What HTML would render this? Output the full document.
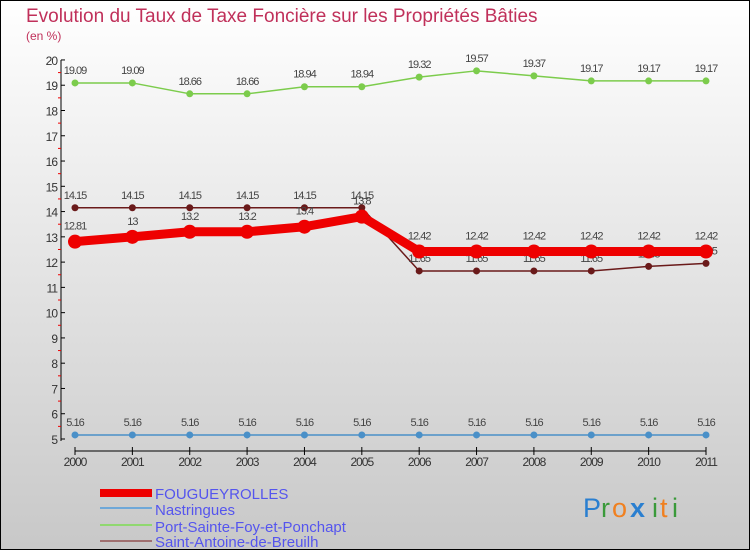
<!DOCTYPE html>
<html><head><meta charset="utf-8"><style>
body{margin:0}
svg{display:block;font-family:"Liberation Sans",sans-serif}
</style></head><body>
<svg width="750" height="550" xmlns="http://www.w3.org/2000/svg">
<defs><linearGradient id="bg" x1="0" y1="0" x2="0" y2="1"><stop offset="0" stop-color="#ffffff"/><stop offset="1" stop-color="#c8c8c8"/></linearGradient></defs>
<rect x="0.5" y="0.5" width="749" height="549" fill="url(#bg)" stroke="#000"/>
<text x="26" y="22" font-size="19" fill="#c0305a">Evolution du Taux de Taxe Foncière sur les Propriétés Bâties</text>
<text x="26" y="40" font-size="12" fill="#c0305a">(en %)</text>
<g id="axes"></g>
<g id="series"></g>
<g>
<rect x="100" y="489" width="52" height="8" fill="#e00"/>
<text x="155" y="499" font-size="15" fill="#5555ee">FOUGUEYROLLES</text>
<rect x="100" y="507" width="52" height="2" fill="#6fa8d8"/>
<text x="155" y="515" font-size="15" fill="#5555ee">Nastringues</text>
<rect x="100" y="524" width="52" height="2" fill="#90d870"/>
<text x="155" y="532" font-size="15" fill="#5555ee">Port-Sainte-Foy-et-Ponchapt</text>
<rect x="100" y="540" width="52" height="2" fill="#a07070"/>
<text x="155" y="547" font-size="15" fill="#5555ee">Saint-Antoine-de-Breuilh</text>
</g>
<g font-size="27">
<text x="583" y="517" fill="#2a7fd0">P</text><text x="601" y="517" fill="#3a9a3a">r</text><text x="612" y="517" fill="#f08020">o</text><text x="630" y="517" fill="#2a7fd0" font-weight="bold">x</text><text x="652" y="517" fill="#3a9a3a">i</text><text x="660" y="517" fill="#f08020">t</text><text x="672" y="517" fill="#3a9a3a">i</text>
</g>
</svg>
<script>
const years=[2000,2001,2002,2003,2004,2005,2006,2007,2008,2009,2010,2011];
const fougueyrolles=[12.81,13,13.2,13.2,13.4,13.8,12.42,12.42,12.42,12.42,12.42,12.42];
const nastringues=[5.16,5.16,5.16,5.16,5.16,5.16,5.16,5.16,5.16,5.16,5.16,5.16];
const portSainteFoy=[19.09,19.09,18.66,18.66,18.94,18.94,19.32,19.57,19.37,19.17,19.17,19.17];
const saintAntoine=[14.15,14.15,14.15,14.15,14.15,14.15,11.65,11.65,11.65,11.65,11.83,11.95];
const yTicks=[5,6,7,8,9,10,11,12,13,14,15,16,17,18,19,20];
const NS="http://www.w3.org/2000/svg";
function xs(i){return 75+i*(706-75)/(years.length-1);}
function ys(v){return 439-(v-5)*25.27;}
function mk(tag,attrs,parent,text){const e=document.createElementNS(NS,tag);for(const k in attrs)e.setAttribute(k,attrs[k]);if(text!==undefined)e.textContent=text;parent.appendChild(e);return e;}
const ax=document.getElementById('axes');
let yl=mk('line',{x1:61,y1:ys(20),x2:61,y2:441,stroke:'#000'},ax);


let xl=mk('line',{x1:75,y1:451,x2:706,y2:451,stroke:'#000'},ax);


yTicks.forEach(v=>{
  mk('line',{x1:61,y1:ys(v),x2:65,y2:ys(v),stroke:'#000'},ax);
  if(v<20) mk('line',{x1:58,y1:ys(v+0.5),x2:61,y2:ys(v+0.5),stroke:'#e00'},ax);
  const t=mk('text',{x:57,y:ys(v)+5,'font-size':12,'text-anchor':'end',fill:'#333','letter-spacing':'-1'},ax,String(v));
  
  
});
years.forEach((y,i)=>{
  mk('line',{x1:xs(i),y1:447,x2:xs(i),y2:455,stroke:'#000'},ax);
  const t=mk('text',{x:xs(i),y:466,'font-size':12,'text-anchor':'middle',fill:'#333','letter-spacing':'-1'},ax,String(y));
  
  
});
const sg=document.getElementById('series');
function draw(data,color,w,r,name,lblDy){
  const g=mk('g',{},sg);
  
  
  mk('polyline',{points:data.map((v,i)=>xs(i)+','+ys(v)).join(' '),fill:'none',stroke:color,'stroke-width':w,'stroke-linejoin':'round'},g);
  data.forEach((v,i)=>{
    const c=mk('circle',{cx:xs(i),cy:ys(v),r:r,fill:color},g);
    
    
    const t=mk('text',{x:xs(i),y:ys(v)+lblDy,'font-size':11,'text-anchor':'middle',fill:'#444','letter-spacing':'-1'},g,String(v));
    
    
  });
}
draw(nastringues,'#4a90c8',1.5,3.5,'nastringues',-9);
draw(portSainteFoy,'#7ccc4c',1.5,3.5,'port-sainte-foy',-9);
draw(saintAntoine,'#6a1a1a',1.5,3.5,'saint-antoine',-9);
draw(fougueyrolles,'#ee0000',9,7,'fougueyrolles',-12);
</script>
</body></html>
